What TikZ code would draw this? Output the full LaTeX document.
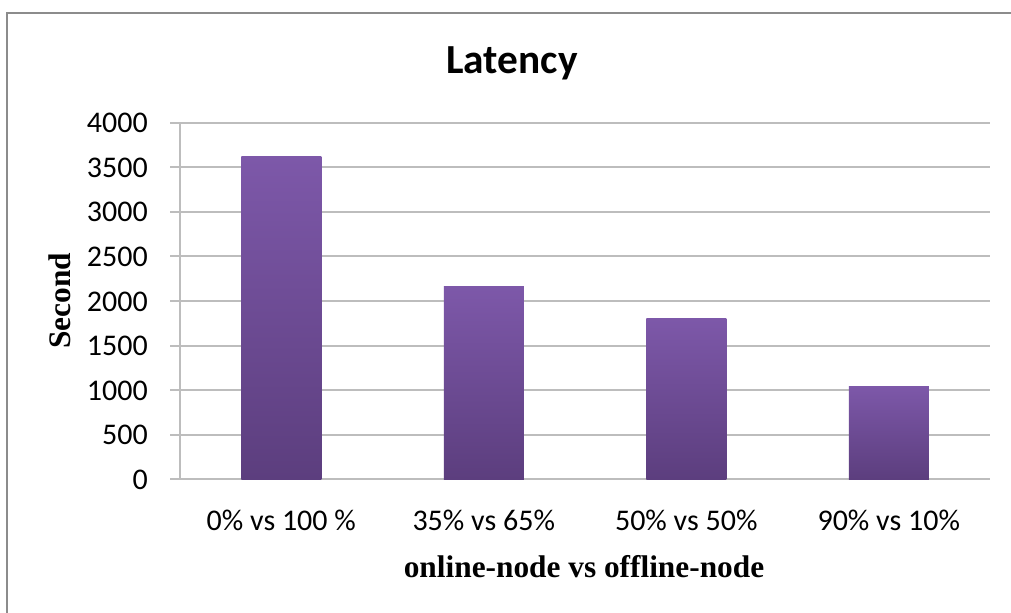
\documentclass[tikz,border=0pt]{standalone}
\usepackage{fontspec}
\newfontfamily\chartfont{Carlito}
\newfontfamily\axisfont{Liberation Serif}
\definecolor{framegray}{HTML}{8C8C8C}
\definecolor{gridgray}{HTML}{BDBDBD}
\definecolor{bartop}{HTML}{7D58A9}
\definecolor{barbottom}{HTML}{5C3E7E}
\tikzset{
  gridline/.style={draw=gridgray, line width=1.5pt},
  ticklabel/.style={font=\chartfont\fontsize{22.5}{26}\selectfont, anchor=base east, inner sep=0pt},
  catlabel/.style={font=\chartfont\fontsize{22.5}{26}\selectfont, anchor=base, inner sep=0pt},
  axistitle/.style={font=\axisfont\bfseries\fontsize{23.5}{28}\selectfont, inner sep=0pt},
  charttitle/.style={font=\chartfont\bfseries\fontsize{31}{36}\selectfont, anchor=base, inner sep=0pt},
  bar/.style={top color=bartop, bottom color=barbottom, draw=none}
}
\begin{document}
\begin{tikzpicture}[x=0.75pt, y=-0.75pt]
  \useasboundingbox (0,0) rectangle (1011,613);
  \fill[white] (0,0) rectangle (1011,613);
  % outer frame (top and left edges only)
  \draw[framegray, line width=2.2pt] (7,613) -- (7,13) -- (1011,13);

  % title
  \node[charttitle] (title) at (512,74) {Latency};

  % horizontal grid lines and value labels (0 at y=479, 500 per 44.5px)
  \foreach \v [count=\i from 0] in {0,500,1000,1500,2000,2500,3000,3500,4000} {
    \pgfmathsetmacro{\yy}{479-44.5*\i}
    \draw[gridline] (170,\yy) -- (990,\yy);
    \node[ticklabel] (tick\i) at (148,\yy+10) {\v};
  }
  % value axis
  \draw[gridline] (180,123) -- (180,479);

  % bars
  \shade[bar] (241.25,479) rectangle (321.25,157);
  \shade[bar] (443.75,479) rectangle (523.75,287);
  \shade[bar] (646.25,479) rectangle (726.25,318);
  \shade[bar] (848.75,479) rectangle (928.75,386);

  % category labels
  \node[catlabel] (c1) at (281.25,530) {0\% vs 100 \%};
  \node[catlabel] (c2) at (483.75,530) {35\% vs 65\%};
  \node[catlabel] (c3) at (686.25,530) {50\% vs 50\%};
  \node[catlabel] (c4) at (888.75,530) {90\% vs 10\%};

  % axis titles
  \node[axistitle, anchor=base] (xtitle) at (584,577) {online-node vs offline-node};
  \node[axistitle, rotate=90] (ytitle) at (60,301) {Second};
\end{tikzpicture}
\end{document}
